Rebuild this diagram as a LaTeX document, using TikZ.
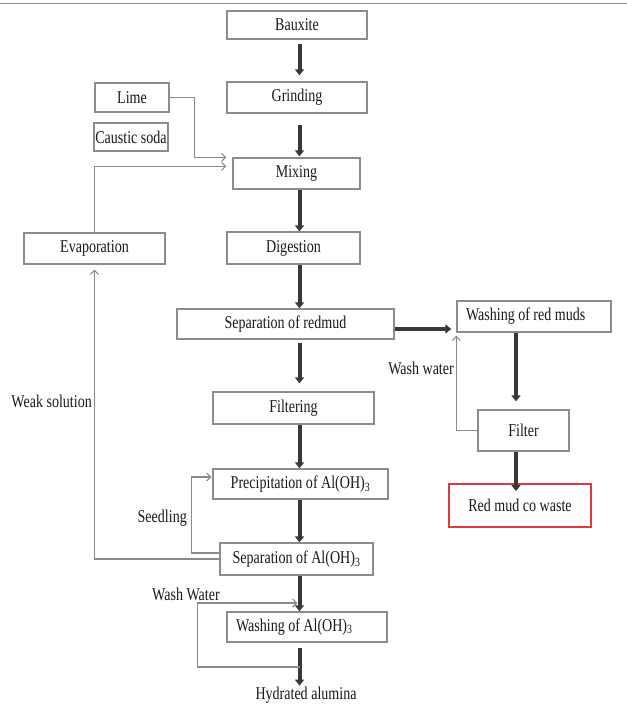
\documentclass[tikz,border=0pt]{standalone}
\usepackage{fontspec}
\setmainfont{Liberation Serif}[FakeStretch=0.78]
\usetikzlibrary{arrows.meta}
\definecolor{boxgray}{HTML}{8C8C8C}
\definecolor{flowgray}{HTML}{383838}
\definecolor{feedgray}{HTML}{8A8A8A}
\definecolor{mudred}{HTML}{E0393E}

\begin{document}
\begin{tikzpicture}[x=1pt, y=-1pt,
	every node/.style={font=\fontsize{18}{20}\selectfont, text=black!90, inner sep=1pt},
	box/.style={draw=boxgray, line width=1.3pt, inner sep=0pt},
	lbox/.style={box, inner xsep=9pt, align=flush left},
	flow/.style={draw=flowgray, line width=4pt, -{Triangle[width=9pt,length=6pt]}},
	feed/.style={draw=feedgray, line width=1.1pt, -{Straight Barb[length=4pt,width=8pt]}}]
	\useasboundingbox (0,0) rectangle (627,721);
	\draw[boxgray, line width=1.5pt] (0,3.5) -- (627,3.5);
	\node[box, minimum width=140pt, minimum height=28pt] (bauxite) at (297,25) {Bauxite};
	\node[box, minimum width=140pt, minimum height=31pt] (grinding) at (297,97.5) {Grinding};
	\node[box, minimum width=74pt, minimum height=29pt] (lime) at (132,97.5) {Lime};
	\node[box, minimum width=74pt, minimum height=28pt] (soda) at (131,137) {Caustic soda};
	\node[box, minimum width=127pt, minimum height=31pt] (mixing) at (296.5,173.5) {Mixing};
	\node[box, minimum width=141pt, minimum height=31pt] (evap) at (94.5,248.5) {Evaporation};
	\node[box, minimum width=133pt, minimum height=32pt] (digestion) at (293.5,248) {Digestion};
	\node[box, minimum width=217pt, minimum height=30pt] (sepmud) at (285.5,324) {Separation of redmud};
	\node[lbox, text width=136pt, minimum height=31pt] (washmud) at (534,316.5) {Washing of red muds};
	\node[box, minimum width=161pt, minimum height=32pt] (filtering) at (293.5,408) {Filtering};
	\node[box, minimum width=91pt, minimum height=41pt] (filter) at (523.5,430.5) {Filter};
	\node[box, draw=mudred, line width=1.8pt, minimum width=142pt, minimum height=43pt] (redmud) at (520,505.5) {Red mud co waste};
	\node[box, minimum width=175pt, minimum height=30pt] (precip) at (300.5,484) {Precipitation of Al(OH)\textsubscript{3}};
	\node[box, minimum width=153pt, minimum height=32pt] (sepal) at (296.5,559) {Separation of Al(OH)\textsubscript{3}};
	\node[lbox, text width=142pt, minimum height=30pt] (washal) at (307,627) {Washing of Al(OH)\textsubscript{3}};
	\node (hydr) at (306,695) {Hydrated alumina};
	\coordinate (spine) at (299.5,0);
	\coordinate (sidespine) at (516,0);
	\coordinate (wwin) at (299.5,603);
	\coordinate (wwout) at (299.5,667);
	\foreach \a/\b/\p/\q in {bauxite/grinding/4/6, grinding/mixing/11/1, mixing/digestion/0/0, digestion/sepmud/0/0, sepmud/filtering/3/8, filtering/precip/0/0, precip/sepal/0/0, sepal/washal/0/0, washal/hydr/5/0}
		\draw[flow, shorten <=\p pt, shorten >=\q pt] (\a.south -| spine) -- (\b.north -| spine);
	\draw[flow, shorten >=5pt] ([yshift=-5pt]sepmud.east) -- ([yshift=-5pt]sepmud.east -| washmud.west);
	\draw[flow, shorten >=8pt] (washmud.south -| sidespine) -- (filter.north -| sidespine);
	\draw[flow, shorten >=-8pt] (filter.south -| sidespine) -- (redmud.north -| sidespine);
	\draw[feed, shorten >=6pt] (lime.east) -| ([xshift=-38pt]mixing.north west) -- (mixing.north west);
	\draw[feed, shorten >=6pt] (evap.north) |- ([yshift=-9pt]mixing.north west);
	\draw[feed, shorten >=5pt] (sepal.west) -| (evap.south);
	\draw[feed, shorten >=1pt] ([yshift=6pt]sepal.west) -- ++(-28pt,0) |- ([yshift=7pt]precip.west);
	\draw[feed, shorten >=3pt] (filter.west) -| (washmud.south west);
	\draw[feed, shorten >=2pt] (wwout) -- ++(-102pt,0) |- (wwin);
	\node[anchor=east] (weak) at (93,401) {Weak solution};
	\node[anchor=east] (washw) at (455,368) {Wash water};
	\node[anchor=east] (seed) at (188,518) {Seedling};
	\node (washW) at (186,594) {Wash Water};
\end{tikzpicture}
\end{document}
